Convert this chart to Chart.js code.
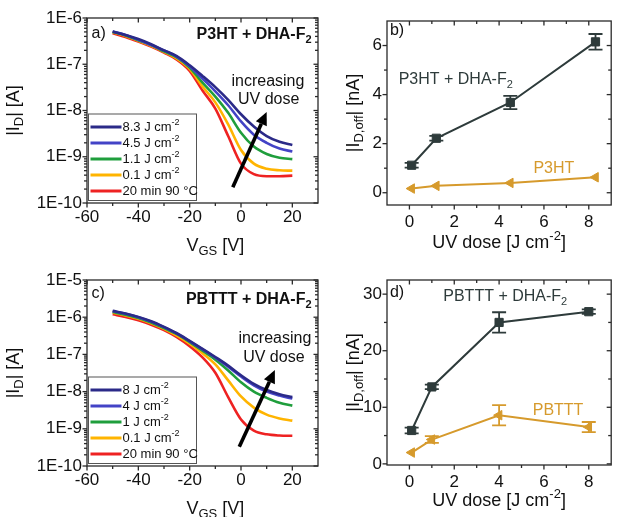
<!DOCTYPE html>
<html>
<head>
<meta charset="utf-8">
<script src="https://cdn.jsdelivr.net/npm/chart.js@4.4.1/dist/chart.umd.min.js"></script>
<style>
  html, body { margin: 0; padding: 0; background: #fff; }
  #wrap { position: relative; width: 618px; height: 517px; overflow: hidden; }
  canvas { position: absolute; }
</style>
</head>
<body>
<div id="wrap">
  <canvas id="cA" width="320" height="260" style="left:0;top:0"></canvas>
  <canvas id="cB" width="298" height="260" style="left:320px;top:0"></canvas>
  <canvas id="cC" width="320" height="257" style="left:0;top:260px"></canvas>
  <canvas id="cD" width="298" height="257" style="left:320px;top:260px"></canvas>
</div>
<script>
// ------------------- DATA -------------------
const vgs = [-50, -45, -40, -35, -30, -25, -20, -15, -10, -5, 0, 5, 10, 15, 20];

// a) P3HT + DHA-F2 transfer curves, |ID| in A
const p3htDose83 = [5.1e-7, 4.3e-7, 3.5e-7, 2.7e-7, 2.0e-7, 1.5e-7, 9.5e-8, 5.6e-8, 3.2e-8, 1.7e-8, 8.3e-9, 4.5e-9, 2.8e-9, 2.1e-9, 1.8e-9];
const p3htDose45 = [5.1e-7, 4.3e-7, 3.4e-7, 2.6e-7, 2.0e-7, 1.45e-7, 9.1e-8, 4.9e-8, 2.6e-8, 1.3e-8, 5.8e-9, 3.0e-9, 2.0e-9, 1.5e-9, 1.3e-9];
const p3htDose11 = [5.0e-7, 4.2e-7, 3.3e-7, 2.6e-7, 1.9e-7, 1.4e-7, 8.5e-8, 4.0e-8, 2.0e-8, 8.9e-9, 3.3e-9, 1.66e-9, 1.15e-9, 9.5e-10, 8.9e-10];
const p3htDose01 = [4.9e-7, 4.1e-7, 3.2e-7, 2.5e-7, 1.86e-7, 1.32e-7, 7.9e-8, 3.3e-8, 1.5e-8, 5.0e-9, 1.4e-9, 7.1e-10, 5.5e-10, 5.1e-10, 5.0e-10];
const p3htAnneal = [4.7e-7, 3.9e-7, 3.1e-7, 2.4e-7, 1.78e-7, 1.26e-7, 7.2e-8, 2.7e-8, 1.1e-8, 2.8e-9, 7.1e-10, 4.2e-10, 3.8e-10, 3.8e-10, 3.9e-10];
const labelsA = ["8.3 J cm^{-2}", "4.5 J cm^{-2}", "1.1 J cm^{-2}", "0.1 J cm^{-2}", "20 min 90 °C"];

// c) PBTTT + DHA-F2 transfer curves, |ID| in A
const pbtttDose8 = [1.48e-6, 1.26e-6, 1.02e-6, 7.8e-7, 5.5e-7, 3.7e-7, 2.3e-7, 1.41e-7, 8.5e-8, 5.0e-8, 2.75e-8, 1.62e-8, 1.1e-8, 8.5e-9, 7.1e-9];
const pbtttDose4 = [1.45e-6, 1.23e-6, 1.0e-6, 7.6e-7, 5.4e-7, 3.6e-7, 2.25e-7, 1.37e-7, 8.2e-8, 4.7e-8, 2.55e-8, 1.48e-8, 1.0e-8, 7.8e-9, 6.5e-9];
const pbtttDose1 = [1.38e-6, 1.17e-6, 9.5e-7, 7.2e-7, 5.1e-7, 3.5e-7, 2.14e-7, 1.26e-7, 7.2e-8, 3.7e-8, 1.78e-8, 1.0e-8, 6.8e-9, 5.0e-9, 4.2e-9];
const pbtttDose01 = [1.32e-6, 1.12e-6, 9.1e-7, 6.9e-7, 4.9e-7, 3.2e-7, 1.95e-7, 1.07e-7, 5.4e-8, 2.0e-8, 7.4e-9, 3.7e-9, 2.4e-9, 1.9e-9, 1.66e-9];
const pbtttAnneal = [1.2e-6, 1.02e-6, 8.3e-7, 6.3e-7, 4.5e-7, 2.9e-7, 1.66e-7, 8.3e-8, 3.2e-8, 7.1e-9, 1.78e-9, 8.9e-10, 7.1e-10, 6.6e-10, 6.5e-10];
const labelsC = ["8 J cm^{-2}", "4 J cm^{-2}", "1 J cm^{-2}", "0.1 J cm^{-2}", "20 min 90 °C"];

// b) off current vs UV dose, nA
const doseB = [0.1, 1.2, 4.5, 8.3];
const offP3htDha = [1.12, 2.22, 3.68, 6.15];
const errP3htDha = [0.1, 0.1, 0.27, 0.32];
const offP3ht = [0.17, 0.28, 0.40, 0.63];
const errP3ht = [0, 0, 0, 0];

// d) off current vs UV dose, nA
const doseD = [0.1, 1, 4, 8];
const offPbtttDha = [5.9, 13.6, 25.0, 26.9];
const errPbtttDha = [0.5, 0.4, 1.8, 0.4];
const offPbttt = [2.0, 4.3, 8.6, 6.5];
const errPbttt = [0, 0.6, 1.8, 0.9];

// ticks
const xTicksIV = [-60, -40, -20, 0, 20];
const yTicksA = [1e-10, 1e-9, 1e-8, 1e-7, 1e-6];
const yTicksC = [1e-10, 1e-9, 1e-8, 1e-7, 1e-6, 1e-5];
const xTicksDose = [0, 2, 4, 6, 8];
const yTicksB = [0, 2, 4, 6];
const yTicksD = [0, 10, 20, 30];

// ------------------- STYLE -------------------
const FONT = '"Liberation Sans", Arial, Helvetica, sans-serif';
const ivColors = ["#2b2a88", "#4343c6", "#1f9e3c", "#ffb400", "#ee2222"];
const darkCol = "#2e3b3b";
const orangeCol = "#d69a2c";

// text with _{sub} and ^{sup}
function parseRich(str) {
  const parts = [];
  str.split(/(\^\{[^}]*\}|_\{[^}]*\})/).forEach(p => {
    if (!p) return;
    if (p.startsWith("^{")) parts.push({ t: p.slice(2, -1), m: "sup" });
    else if (p.startsWith("_{")) parts.push({ t: p.slice(2, -1), m: "sub" });
    else parts.push({ t: p, m: "" });
  });
  return parts;
}

function drawRich(ctx, str, x, y, o) {
  const size = o.size || 16;
  const weight = o.bold ? "bold " : "";
  const parts = parseRich(str);
  const fontFor = m => weight + (m ? Math.round(size * 0.7) : size) + "px " + FONT;
  let w = 0;
  parts.forEach(p => { ctx.font = fontFor(p.m); p.w = ctx.measureText(p.t).width; w += p.w; });
  ctx.save();
  ctx.translate(x, y);
  if (o.rotate) ctx.rotate(o.rotate);
  ctx.fillStyle = o.color || "#111";
  ctx.textBaseline = "middle";
  ctx.textAlign = "left";
  let cx = o.align === "center" ? -w / 2 : o.align === "right" ? -w : 0;
  parts.forEach(p => {
    ctx.font = fontFor(p.m);
    const dy = p.m === "sub" ? size * 0.32 : p.m === "sup" ? -size * 0.36 : 0;
    ctx.fillText(p.t, cx, dy);
    cx += p.w;
  });
  ctx.restore();
}

function midTicks(major, min, max) {
  const step = major[1] - major[0];
  const out = [];
  for (let v = major[0] - step / 2; v < max - 1e-9; v += step) {
    if (v > min + 1e-9) out.push(v);
  }
  return out;
}

function logMinor(min, max) {
  const out = [];
  for (let e = Math.floor(Math.log10(min)); e <= Math.ceil(Math.log10(max)); e++) {
    for (let k = 2; k <= 9; k++) {
      const v = k * Math.pow(10, e);
      if (v > min && v < max) out.push(v);
    }
  }
  return out;
}

// ------------------- PANEL EXTRAS -------------------
const extras = {
  cA: {
    xMajor: xTicksIV, yMajor: yTicksA, yLog: true,
    xTitle: { text: "V_{GS} [V]", x: -10, dy: 43 },
    yTitle: { text: "|I_{D}| [A]", dx: -73 },
    legend: labelsA,
    notes: [
      { text: "a)", x: -58.2, y: 4.5e-7, align: "left" },
      { text: "P3HT + DHA-F_{2}", x: 27.5, y: 4.3e-7, bold: true, align: "right" },
      { text: "increasing", x: 10.5, y: 4.2e-8, align: "center" },
      { text: "UV dose", x: 10.8, y: 1.7e-8, align: "center" }
    ],
    arrow: { x1: -3.2, y1: 2.2e-10, x2: 10.0, y2: 9.3e-9 }
  },
  cB: {
    xMajor: xTicksDose, yMajor: yTicksB,
    xTitle: { text: "UV dose [J cm^{-2}]", x: 4, dy: 38 },
    yTitle: { text: "|I_{D,off}| [nA]", dx: -33 },
    notes: [
      { text: "b)", x: -0.87, y: 6.6, align: "left" },
      { text: "P3HT + DHA-F_{2}", x: -0.48, y: 4.6, align: "left", color: darkCol },
      { text: "P3HT", x: 5.53, y: 1.0, align: "left", color: orangeCol }
    ]
  },
  cC: {
    xMajor: xTicksIV, yMajor: yTicksC, yLog: true,
    xTitle: { text: "V_{GS} [V]", x: -10, dy: 43 },
    yTitle: { text: "|I_{D}| [A]", dx: -73 },
    legend: labelsC,
    notes: [
      { text: "c)", x: -58.2, y: 4.2e-6, align: "left" },
      { text: "PBTTT + DHA-F_{2}", x: 27.5, y: 3.0e-6, bold: true, align: "right" },
      { text: "increasing", x: 13.2, y: 2.6e-7, align: "center" },
      { text: "UV dose", x: 12.8, y: 8.1e-8, align: "center" }
    ],
    arrow: { x1: -0.67, y1: 3.3e-10, x2: 13.2, y2: 3.8e-8 }
  },
  cD: {
    xMajor: xTicksDose, yMajor: yTicksD,
    xTitle: { text: "UV dose [J cm^{-2}]", x: 4, dy: 36 },
    yTitle: { text: "|I_{D,off}| [nA]", dx: -33 },
    notes: [
      { text: "d)", x: -0.87, y: 30.2, align: "left" },
      { text: "PBTTT + DHA-F_{2}", x: 1.51, y: 29.5, align: "left", color: darkCol },
      { text: "PBTTT", x: 5.5, y: 9.34, align: "left", color: orangeCol }
    ]
  }
};

// ------------------- PLUGIN -------------------
const panelPlugin = {
  id: "panel",
  beforeDatasetsDraw(chart) {
    // error bars under the markers
    const ctx = chart.ctx, xs = chart.scales.x, ys = chart.scales.y;
    chart.data.datasets.forEach(ds => {
      if (!ds.errors) return;
      ctx.save();
      ctx.strokeStyle = ds.borderColor;
      ctx.lineWidth = 1.8;
      ds.data.forEach((pt, j) => {
        const e = ds.errors[j];
        if (!e) return;
        const px = xs.getPixelForValue(pt.x);
        const top = ys.getPixelForValue(pt.y + e);
        const bot = ys.getPixelForValue(pt.y - e);
        ctx.beginPath();
        ctx.moveTo(px, top); ctx.lineTo(px, bot);
        ctx.moveTo(px - 7, top); ctx.lineTo(px + 7, top);
        ctx.moveTo(px - 7, bot); ctx.lineTo(px + 7, bot);
        ctx.stroke();
      });
      ctx.restore();
    });
  },
  afterDatasetsDraw(chart) {
    const ex = extras[chart.canvas.id];
    const ctx = chart.ctx, a = chart.chartArea, xs = chart.scales.x, ys = chart.scales.y;
    ctx.save();

    // frame and ticks
    ctx.strokeStyle = "#2a2a2a";
    ctx.lineWidth = 1.3;
    ctx.strokeRect(a.left, a.top, a.right - a.left, a.bottom - a.top);
    const seg = (x1, y1, x2, y2) => { ctx.beginPath(); ctx.moveTo(x1, y1); ctx.lineTo(x2, y2); ctx.stroke(); };
    const xTick = (v, len) => {
      const px = xs.getPixelForValue(v);
      seg(px, a.bottom, px, a.bottom + len);
      seg(px, a.top, px, a.top + len);
    };
    const yTick = (v, len) => {
      const py = ys.getPixelForValue(v);
      seg(a.left - len, py, a.left, py);
      seg(a.right - len, py, a.right, py);
    };
    ex.xMajor.forEach(v => xTick(v, 4.5));
    midTicks(ex.xMajor, xs.min, xs.max).forEach(v => xTick(v, 3));
    ex.yMajor.forEach(v => yTick(v, 4.5));
    (ex.yLog ? logMinor(ys.min, ys.max) : midTicks(ex.yMajor, ys.min, ys.max)).forEach(v => yTick(v, 3));

    // legend box
    if (ex.legend) {
      const bx = a.left + 1.5, by = a.bottom - 89, bw = 108, bh = 86.5;
      ctx.fillStyle = "#fff";
      ctx.fillRect(bx, by, bw, bh);
      ctx.strokeStyle = "#555";
      ctx.lineWidth = 1;
      ctx.strokeRect(bx, by, bw, bh);
      chart.data.datasets.forEach((ds, i) => {
        const ry = a.bottom - 76 + i * 16;
        ctx.strokeStyle = ds.borderColor;
        ctx.lineWidth = 3;
        seg(bx + 2, ry, bx + 33, ry);
        drawRich(ctx, ex.legend[i], bx + 34, ry, { size: 13 });
      });
    }

    // arrow
    if (ex.arrow) {
      const x1 = xs.getPixelForValue(ex.arrow.x1), y1 = ys.getPixelForValue(ex.arrow.y1);
      const x2 = xs.getPixelForValue(ex.arrow.x2), y2 = ys.getPixelForValue(ex.arrow.y2);
      const ang = Math.atan2(y2 - y1, x2 - x1);
      const hl = 13, hw = 6;
      const bxp = x2 - hl * Math.cos(ang), byp = y2 - hl * Math.sin(ang);
      ctx.strokeStyle = "#000";
      ctx.fillStyle = "#000";
      ctx.lineWidth = 3.6;
      seg(x1, y1, bxp, byp);
      ctx.beginPath();
      ctx.moveTo(x2, y2);
      ctx.lineTo(bxp + hw * Math.sin(ang), byp - hw * Math.cos(ang));
      ctx.lineTo(bxp - hw * Math.sin(ang), byp + hw * Math.cos(ang));
      ctx.closePath();
      ctx.fill();
    }

    // notes
    ex.notes.forEach(n => {
      drawRich(ctx, n.text, xs.getPixelForValue(n.x), ys.getPixelForValue(n.y),
        { size: 16, bold: n.bold, align: n.align, color: n.color || "#111" });
    });

    // axis titles
    drawRich(ctx, ex.xTitle.text, xs.getPixelForValue(ex.xTitle.x), a.bottom + ex.xTitle.dy,
      { size: 18, align: "center" });
    drawRich(ctx, ex.yTitle.text, a.left + ex.yTitle.dx, (a.top + a.bottom) / 2,
      { size: 18, align: "center", rotate: -Math.PI / 2 });

    ctx.restore();
  }
};

// ------------------- CHART BUILDERS -------------------
function axisBase(ticksArr, size, pad, fmt) {
  const t = { font: { family: FONT, size: size }, color: "#111", padding: pad, maxRotation: 0, autoSkip: false };
  if (fmt) t.callback = fmt;
  return {
    grid: { display: false, drawTicks: false },
    border: { display: false },
    ticks: t,
    afterBuildTicks: s => { s.ticks = ticksArr.map(v => ({ value: v })); }
  };
}

function makeChart(id, datasets, p) {
  const x = Object.assign(axisBase(p.xTicks, 17, p.xPad), {
    type: "linear", min: p.xMin, max: p.xMax,
    afterFit: s => { s.height = p.xH; }
  });
  const y = Object.assign(axisBase(p.yTicks, 17, 5, p.yFmt), {
    type: p.yType, min: p.yMin, max: p.yMax,
    afterFit: s => { s.width = p.yW; }
  });
  return new Chart(document.getElementById(id), {
    type: "line",
    data: { datasets: datasets },
    options: {
      responsive: false,
      animation: false,
      devicePixelRatio: 1,
      layout: { padding: p.pad },
      plugins: { legend: { display: false }, tooltip: { enabled: false } },
      scales: { x: x, y: y }
    },
    plugins: [panelPlugin]
  });
}

const toXY = (xsArr, ysArr) => xsArr.map((v, i) => ({ x: v, y: ysArr[i] }));

function ivSets(series) {
  return series.map((s, i) => ({
    data: toXY(vgs, s),
    borderColor: ivColors[i],
    borderWidth: 2.6,
    pointRadius: 0,
    cubicInterpolationMode: "monotone",
    order: i
  }));
}

function doseSets(dose, dark, darkErr, orange, orangeErr) {
  return [
    {
      data: toXY(dose, dark), errors: darkErr,
      borderColor: darkCol, backgroundColor: darkCol, borderWidth: 2,
      pointStyle: "rect", pointRadius: 5.8, pointBorderWidth: 1
    },
    {
      data: toXY(dose, orange), errors: orangeErr,
      borderColor: orangeCol, backgroundColor: orangeCol, borderWidth: 2,
      pointStyle: "triangle", pointRotation: -90, pointRadius: 5.5, pointBorderWidth: 1
    }
  ];
}

const expFmt = v => "1E" + Math.round(Math.log10(v));

makeChart("cA", ivSets([p3htDose83, p3htDose45, p3htDose11, p3htDose01, p3htAnneal]), {
  pad: { top: 18, right: 2, left: 0, bottom: 0 },
  xMin: -60, xMax: 30, xTicks: xTicksIV, xH: 57, xPad: 4,
  yType: "logarithmic", yMin: 1e-10, yMax: 1e-6, yTicks: yTicksA, yW: 87, yFmt: expFmt
});

makeChart("cB", doseSets(doseB, offP3htDha, errP3htDha, offP3ht, errP3ht), {
  pad: { top: 21, right: 0, left: 0, bottom: 0 },
  xMin: -1, xMax: 9, xTicks: xTicksDose, xH: 55, xPad: 7,
  yType: "linear", yMin: -0.5, yMax: 7, yTicks: yTicksB, yW: 67
});

makeChart("cC", ivSets([pbtttDose8, pbtttDose4, pbtttDose1, pbtttDose01, pbtttAnneal]), {
  pad: { top: 20, right: 2, left: 0, bottom: 0 },
  xMin: -60, xMax: 30, xTicks: xTicksIV, xH: 51, xPad: 4,
  yType: "logarithmic", yMin: 1e-10, yMax: 1e-5, yTicks: yTicksC, yW: 87, yFmt: expFmt
});

makeChart("cD", doseSets(doseD, offPbtttDha, errPbtttDha, offPbttt, errPbttt), {
  pad: { top: 20, right: 0, left: 0, bottom: 0 },
  xMin: -1, xMax: 9, xTicks: xTicksDose, xH: 52, xPad: 7,
  yType: "linear", yMin: -0.2, yMax: 32.5, yTicks: yTicksD, yW: 67
});
</script>
</body>
</html>
